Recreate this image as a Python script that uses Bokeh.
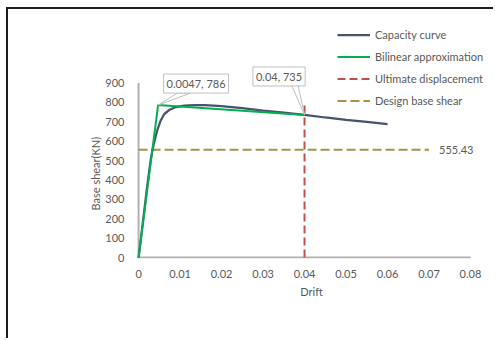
from bokeh.plotting import figure
from bokeh.models import Range1d, FixedTicker, Label, Legend, LegendItem, Title
from bokeh.embed import file_html
from bokeh.resources import INLINE

# ---- data ----
cap_drift = [0, 0.001, 0.002, 0.003, 0.0037, 0.0045, 0.0053, 0.0062, 0.0075, 0.009,
             0.011, 0.0135, 0.016, 0.02, 0.025, 0.03, 0.035, 0.04, 0.045, 0.05, 0.055, 0.06]
cap_shear = [0, 175, 355, 515, 590, 655, 705, 740, 762, 776,
             783, 786, 786, 781, 770, 758, 747, 735, 722, 710, 699, 688]
bil_drift = [0, 0.0047, 0.04]
bil_shear = [0, 786, 735]
ult_drift = [0.04, 0.04]
ult_shear = [0, 800]
design_drift = [0, 0.07]
design_shear_val = 555.43
callouts = [(0.0047, 786, "0.0047, 786"), (0.04, 735, "0.04, 735")]
x_ticks = [0, 0.01, 0.02, 0.03, 0.04, 0.05, 0.06, 0.07, 0.08]
x_tick_labels = ["0", "0.01", "0.02", "0.03", "0.04", "0.05", "0.06", "0.07", "0.08"]
y_ticks = [0, 100, 200, 300, 400, 500, 600, 700, 800, 900]
series_names = ["Capacity curve", "Bilinear approximation", "Ultimate displacement", "Design base shear"]
x_title = "Drift"
y_title = "Base shear(KN)"

FONT = "Lato"
FS = "11px"
TXT = "#595959"

W, H = 487, 331
ML, MT, MR, MB = 128, 5, 9, 82
X0, X1 = -0.0005, 0.08386
Y0, Y1 = -5, 1253
p = figure(width=W, height=H, output_backend="svg", toolbar_location=None,
           x_range=Range1d(X0, X1), y_range=Range1d(Y0, Y1),
           min_border_left=ML, min_border_top=MT, min_border_right=MR, min_border_bottom=MB)
p.styles = {"border-top": "2px solid #1e1e1e", "border-left": "2px solid #1e1e1e",
            "margin-left": "6px", "margin-top": "7px"}
p.outline_line_color = None
p.xgrid.visible = False
p.ygrid.visible = False

for ax in (p.xaxis[0], p.yaxis[0]):
    ax.axis_line_color = None
    ax.major_tick_line_color = None
    ax.minor_tick_line_color = None
    ax.major_label_text_font = FONT
    ax.major_label_text_font_size = FS
    ax.major_label_text_color = TXT
    ax.axis_label_text_font = FONT
    ax.axis_label_text_font_size = FS
    ax.axis_label_text_font_style = "normal"
    ax.axis_label_text_color = TXT

p.xaxis.ticker = FixedTicker(ticks=x_ticks)
p.xaxis.major_label_overrides = {t: l for t, l in zip(x_ticks, x_tick_labels)}
p.xaxis.major_label_standoff = 5
p.xaxis.axis_label = x_title
p.xaxis.axis_label_standoff = 4
p.yaxis.ticker = FixedTicker(ticks=y_ticks)
p.yaxis.major_label_standoff = 6

# y-axis title placed along the 0..900 span (the frame extends higher)
p.add_layout(Title(text=y_title, align="left", offset=48, standoff=2,
                   text_font=FONT, text_font_size=FS, text_font_style="normal",
                   text_color=TXT), "left")

# axis lines (drawn as glyphs so the frame can extend above the 900 tick)
p.line([x_ticks[0], x_ticks[-1]], [0, 0], line_color="#B0B0B0", line_width=2)
p.line([0, 0], [y_ticks[0], y_ticks[-1]], line_color="#B0B0B0", line_width=2)

r_ult = p.line(ult_drift, ult_shear, line_color="#C0504D", line_width=2, line_dash="8 4")
r_des = p.line(design_drift, [design_shear_val] * 2, line_color="#A69348", line_width=2, line_dash="9 4")
r_cap = p.line(cap_drift, cap_shear, line_color="#44546A", line_width=2.25)
r_bil = p.line(bil_drift, bil_shear, line_color="#00B050", line_width=2)

p.add_layout(Label(x=design_drift[-1], y=design_shear_val, text=f"{design_shear_val:.2f}",
                   x_offset=10, text_baseline="middle", text_font=FONT,
                   text_font_size=FS, text_color=TXT))

# callouts: box offset (px) and wedge base (px) relative to point
dx_px = (X1 - X0) / (W - ML - MR)
dy_px = (Y1 - Y0) / (H - MT - MB)
box_offsets = [(38, 21.5), (-25.5, 38.5)]
wedge_bases = [((19.5, 12), (32.5, 12)), ((-13, 30), (-6.5, 30))]
for (cx, cy, txt), (ox, oy), (b1, b2) in zip(callouts, box_offsets, wedge_bases):
    xs = [cx, cx + b1[0] * dx_px, cx + b2[0] * dx_px]
    ys = [cy, cy + b1[1] * dy_px, cy + b2[1] * dy_px]
    p.patch(xs, ys, fill_color="white", line_color="#BFBFBF", line_width=1)
    p.add_layout(Label(x=cx, y=cy, x_offset=ox, y_offset=oy, text=txt,
                       text_align="center", text_baseline="middle",
                       text_font=FONT, text_font_size=FS, text_color=TXT,
                       border_line_color="#BFBFBF", border_line_width=1,
                       background_fill_color="white", padding=3))

legend = Legend(items=[LegendItem(label=n, renderers=[r]) for n, r in
                       zip(series_names, [r_cap, r_bil, r_ult, r_des])],
                location=(201, 150))
legend.glyph_width = 33
legend.glyph_height = 15
legend.label_height = 15
legend.spacing = 7
legend.label_standoff = 5
legend.padding = 0
legend.margin = 0
legend.border_line_color = None
legend.background_fill_alpha = 0
legend.label_text_font = FONT
legend.label_text_font_size = FS
legend.label_text_color = TXT
p.add_layout(legend, "center")

open("out.html", "w").write(file_html(p, INLINE))
